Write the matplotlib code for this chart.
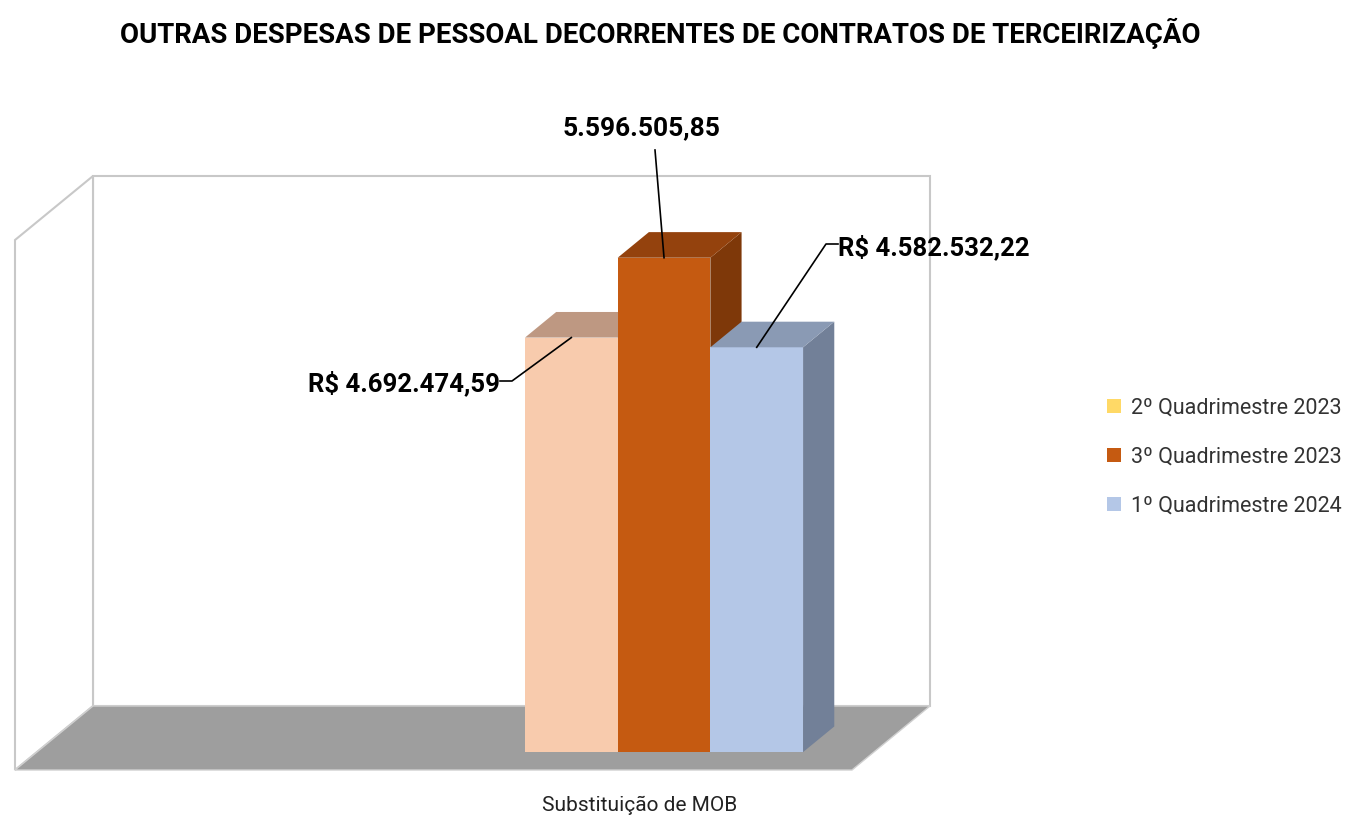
import matplotlib
matplotlib.use("Agg")
import matplotlib.pyplot as plt
from matplotlib.patches import Polygon, Patch

# dados do grafico
categoria = "Substituição de MOB"
series = ["2º Quadrimestre 2023", "3º Quadrimestre 2023", "1º Quadrimestre 2024"]
valores = [4692474.59, 5596505.85, 4582532.22]
rotulos = ["R$ 4.692.474,59", "5.596.505,85", "R$ 4.582.532,22"]
cor_frente = ["#F8CBAD", "#C55A11", "#B4C7E7"]
cor_topo = ["#BE9882", "#94420D", "#8A9AB4"]
cor_lado = ["#A88772", "#7E3809", "#728098"]
cor_legenda = ["#FFD966", "#C55A11", "#B4C7E7"]
titulo = "OUTRAS DESPESAS DE PESSOAL DECORRENTES DE CONTRATOS DE TERCEIRIZAÇÃO"

W, H = 1346, 821
fig = plt.figure(figsize=(W / 100, H / 100), dpi=100)
# eixo = parede do fundo
ax = fig.add_axes([93 / W, (H - 706) / H, (930 - 93) / W, (706 - 176) / H])
ymax = 6000000
ax.set_xlim(0, 1)
ax.set_ylim(0, ymax)
ax.axis("off")

# deslocamento obliquo (fundo -> frente)
DX = -78 / 837
DY = -64 / 530 * ymax


def proj(x, y, d):
    return (x + d * DX, y + d * DY)


cinza = "#C8C8C8"
# parede do fundo
ax.add_patch(Polygon([proj(0, 0, 0), proj(1, 0, 0), proj(1, ymax, 0), proj(0, ymax, 0)],
                     closed=True, facecolor="white", edgecolor=cinza, lw=1.5, clip_on=False))
# parede lateral
ax.add_patch(Polygon([proj(0, 0, 0), proj(0, ymax, 0), proj(0, ymax, 1), proj(0, 0, 1)],
                     closed=True, facecolor="white", edgecolor=cinza, lw=1.5, clip_on=False))
# piso
ax.add_patch(Polygon([proj(0, 0, 0), proj(1, 0, 0), proj(1, 0, 1), proj(0, 0, 1)],
                     closed=True, facecolor="#9E9E9E", edgecolor="#D0D0D0", lw=1.0, clip_on=False))

# barras
larg = 92.7 / 837
x0 = 0.5832
d_tras, d_frente = 0.32, 0.72
for i, v in enumerate(valores):
    xl = x0 + i * larg
    xr = xl + larg
    fx, fy = proj(xl, 0, d_frente)
    ax.bar(fx, v, width=larg, bottom=fy, align="edge", color=cor_frente[i],
           lw=0, clip_on=False, zorder=3 + i)
    topo = [proj(xl, v, d_frente), proj(xr, v, d_frente), proj(xr, v, d_tras), proj(xl, v, d_tras)]
    ax.add_patch(Polygon(topo, closed=True, facecolor=cor_topo[i], lw=0, clip_on=False, zorder=3 + i))
    lado = [proj(xr, 0, d_frente), proj(xr, v, d_frente), proj(xr, v, d_tras), proj(xr, 0, d_tras)]
    ax.add_patch(Polygon(lado, closed=True, facecolor=cor_lado[i], lw=0, clip_on=False, zorder=2.9 + i))

# rotulos com linhas de chamada
px = lambda x: (x - 93) / 837
py = lambda y: (706 - y) / 530 * ymax
fonte_rot = dict(family=["Roboto", "DejaVu Sans"], fontweight="bold", fontsize=18.5, zorder=10)
pos_rot = [((px(500), py(383)), "right", [(px(512), py(381))]),
           ((px(641), py(128)), "center", [(px(655), py(150))]),
           ((px(838), py(247)), "left", [(px(826), py(244))])]
for i, v in enumerate(valores):
    (tx, ty), ha, quebra = pos_rot[i]
    xl = x0 + i * larg
    alvo = proj(xl + larg / 2, v, d_frente)
    pts = quebra + [alvo]
    if i == 0:
        pts = [(tx, py(381))] + pts
    elif i == 2:
        pts = [(tx, py(244))] + pts
    ax.plot([p[0] for p in pts], [p[1] for p in pts], color="black", lw=1.2,
            clip_on=False, zorder=10)
    tam = 19 if i == 1 else 18.5
    ax.text(tx, ty, rotulos[i], ha=ha, va="center", clip_on=False,
            **{**fonte_rot, "fontsize": tam})

# titulo
fig.text(660 / W, 1 - 33 / H, titulo, ha="center", va="center",
         family=["Roboto", "DejaVu Sans"], fontweight="bold", fontsize=19.9)

# rotulo da categoria
fig.text(640 / W, 1 - 805 / H, categoria, ha="center", va="center",
         family=["Roboto", "DejaVu Sans"], fontsize=15, color="#222222")

# legenda
alcas = [Patch(facecolor=c, edgecolor="none") for c in cor_legenda]
leg = fig.legend(alcas, series, loc="center left", bbox_to_anchor=(1088 / W, 1 - 457 / H),
                 frameon=False, handlelength=0.65, handleheight=0.65, handletextpad=0.45,
                 labelspacing=1.3, prop=dict(family=["Roboto", "DejaVu Sans"], size=15.5))
for t in leg.get_texts():
    t.set_color("#333333")

fig.savefig("out.png", dpi=100)
